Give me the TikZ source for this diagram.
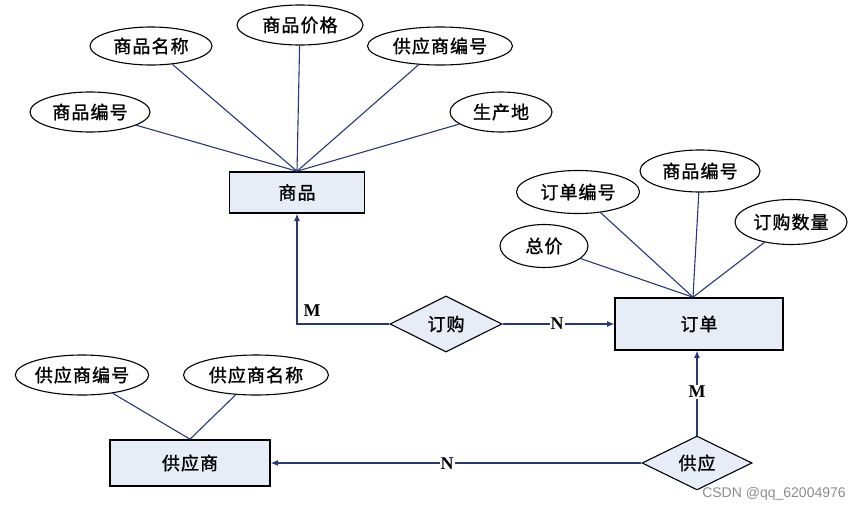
\documentclass[tikz,border=0pt]{standalone}
\usepackage{fontspec}
\setmainfont{Liberation Serif}
\newfontfamily\cjk[LetterSpace=6,FakeBold=1.2]{Noto Sans CJK SC}
\newfontfamily\wmfont{Liberation Sans}
\usetikzlibrary{shapes.geometric,arrows.meta}
\definecolor{navy}{HTML}{26387A}
\definecolor{boxfill}{HTML}{E6EDF7}
\tikzset{
  attr/.style={draw=black, line width=1.1pt, ellipse, fill=white, inner sep=0pt, font=\cjk\fontsize{18}{18}\selectfont},
  ent/.style={draw=black, line width=1.6pt, rectangle, fill=boxfill, inner sep=0pt, font=\cjk\fontsize{18}{18}\selectfont},
  rel/.style={draw=black, line width=1.1pt, diamond, fill=boxfill, inner sep=0pt, font=\cjk\fontsize{18}{18}\selectfont},
  conn/.style={draw=navy, line width=1.1pt},
  arr/.style={conn, -{Latex[length=7pt,width=6pt]}},
  card/.style={font=\bfseries\fontsize{18}{18}\selectfont, fill=white, inner sep=1pt}
}
\begin{document}
\begin{tikzpicture}[x=1pt,y=-1pt]
\useasboundingbox (0,0) rectangle (865,512);
% entities
\node[ent, minimum width=135pt, minimum height=41pt] (sp) at (297,192.5) {商品};
\node[ent, minimum width=168pt, minimum height=52pt] (dd) at (699,324) {订单};
\node[ent, minimum width=160pt, minimum height=46pt] (gys) at (190,463) {供应商};
% relationships
\node[rel, minimum width=112pt, minimum height=56pt] (dg) at (446,324) {订购};
\node[rel, minimum width=110pt, minimum height=52pt] (gy) at (697,463) {供应};
% attributes of 商品
\node[attr, minimum width=120pt, minimum height=40pt] (a1) at (90,112) {商品编号};
\node[attr, minimum width=122pt, minimum height=38pt] (a2) at (151,46) {商品名称};
\node[attr, minimum width=126pt, minimum height=40pt] (a3) at (300,25) {商品价格};
\node[attr, minimum width=145pt, minimum height=38pt] (a4) at (440,46) {供应商编号};
\node[attr, minimum width=102pt, minimum height=40pt] (a5) at (501,112) {生产地};
% attributes of 订单
\node[attr, minimum width=123pt, minimum height=43pt] (b1) at (578,192) {订单编号};
\node[attr, minimum width=120pt, minimum height=42pt] (b2) at (700,171) {商品编号};
\node[attr, minimum width=112pt, minimum height=45pt] (b3) at (791,222) {订购数量};
\node[attr, minimum width=88pt, minimum height=43pt] (b4) at (544,246) {总价};
% attributes of 供应商
\node[attr, minimum width=130pt, minimum height=40pt] (c1) at (82,375) {供应商编号};
\node[attr, minimum width=145pt, minimum height=40pt] (c2) at (256,375) {供应商名称};
% attribute lines
\coordinate (spt) at (sp.north);
\coordinate (ddt) at ([xshift=-6pt]dd.north);
\coordinate (gyt) at (gys.north);
\foreach \a in {a1,a2,a3,a4,a5} \draw[conn] (\a) -- (spt);
\foreach \b in {b1,b2,b3,b4} \draw[conn] (\b) -- (ddt);
\foreach \c in {c1,c2} \draw[conn] (\c) -- (gyt);
% relationship connectors
\draw[arr] (dg.west) -| (sp.south);
\draw[arr] (dg.east) -- (dd.west);
\draw[arr] (gy.north) -- (gy.north |- dd.south);
\draw[arr] (gy.west) -- (gys.east);
% cardinalities
\node[font=\bfseries\fontsize{18}{18}\selectfont, inner sep=0pt] (m1) at (312,311) {M};
\node[card] (n1) at (557,324) {N};
\node[card] (m2) at (697,392) {M};
\node[card] (n2) at (447,464) {N};
% watermark
\node[font=\wmfont\fontsize{14}{14}\selectfont, text=black!45, inner sep=0pt] (wm) at (774,494) {CSDN @qq\_62004976};
\end{tikzpicture}
\end{document}
